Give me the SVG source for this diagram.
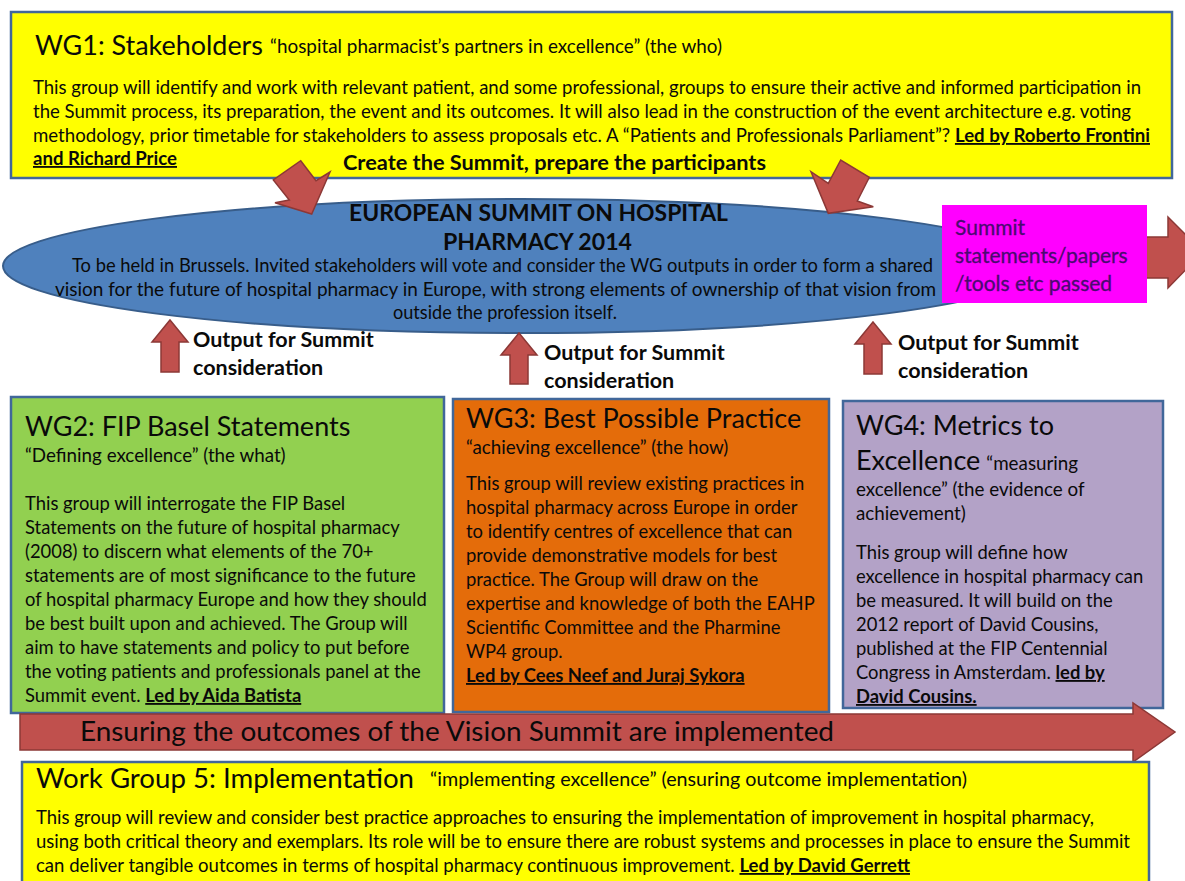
<svg xmlns="http://www.w3.org/2000/svg" width="1185" height="881" viewBox="0 0 1185 881">
<style>
text{font-family:Lato,"Liberation Sans",sans-serif;fill:#0a0a0a}
.box{stroke:#41679A;stroke-width:2.5}
.arr{fill:#C0504D;stroke:#8C3836;stroke-width:1.5;stroke-linejoin:miter}
.h{font-size:27px}
.s{font-size:18.8px}
.bd{font-size:18.4px}
.lb{font-size:21.5px;font-weight:bold}
.et{font-size:22px;font-weight:bold}
.b{font-weight:bold}
.u{text-decoration:underline}
text.mg{font-size:21px;fill:#4A0A70;stroke:#4A0A70;stroke-width:0.3}
</style>
<rect width="1185" height="881" fill="#fff"/>

<g id="wg1">
<rect class="box" x="11" y="12" width="1161" height="166" fill="#FFFF00"/>
<text class="h" x="35" y="55" textLength="228" lengthAdjust="spacingAndGlyphs">WG1: Stakeholders</text>
<text class="s" x="270" y="53" textLength="452" lengthAdjust="spacingAndGlyphs">“hospital pharmacist’s partners in excellence” (the who)</text>
<text class="bd" x="33" y="94" textLength="1108" lengthAdjust="spacingAndGlyphs">This group will identify and work with relevant patient, and some professional, groups to ensure their active and informed participation in</text>
<text class="bd" x="33" y="118" textLength="1098" lengthAdjust="spacingAndGlyphs">the Summit process, its preparation, the event and its outcomes. It will also lead in the construction of the event architecture e.g. voting</text>
<text class="bd" x="33" y="142" textLength="1117" lengthAdjust="spacingAndGlyphs">methodology, prior timetable for stakeholders to assess proposals etc. A “Patients and Professionals Parliament”?  <tspan class="b u">Led by Roberto Frontini</tspan></text>
<text class="bd b u" x="33" y="165" textLength="144" lengthAdjust="spacingAndGlyphs">and Richard Price</text>
<text class="lb" x="343" y="170" textLength="423" lengthAdjust="spacingAndGlyphs">Create the Summit, prepare the participants</text>
</g>

<g id="summit">
<ellipse cx="521" cy="266" rx="518" ry="67" fill="#4F81BD" stroke="#385D8A" stroke-width="2"/>
<text class="et" x="349" y="221" textLength="379" lengthAdjust="spacingAndGlyphs">EUROPEAN SUMMIT ON HOSPITAL</text>
<text class="et" x="443" y="250" textLength="189" lengthAdjust="spacingAndGlyphs">PHARMACY 2014</text>
<text class="bd" x="72" y="272" textLength="861" lengthAdjust="spacingAndGlyphs">To be held in Brussels. Invited stakeholders will vote and consider the WG outputs in order to form a shared</text>
<text class="bd" x="55" y="296" textLength="881" lengthAdjust="spacingAndGlyphs">vision for the future of hospital pharmacy in Europe, with strong elements of ownership of that vision from</text>
<text class="bd" x="393" y="319" textLength="224" lengthAdjust="spacingAndGlyphs">outside the profession itself.</text>
</g>

<g id="connectors">
<polygon class="arr" points="1145,237 1168,237 1168,217 1203,252 1168,288 1168,278 1145,278"/>
<polygon class="arr" points="300.7,160.7 316,180.7 330,172 311.7,214 275,202.7 289.3,200 273.3,180"/>
<polygon class="arr" points="840.7,160 828.3,183.3 811,171.7 828.3,213.3 873.3,206.7 857.3,201 869.3,177.3"/>
<polygon class="arr" points="170,320 188,342 179,342 179,372 161,372 161,342 152,342"/>
<polygon class="arr" points="519,333 537,355 528,355 528,384 510,384 510,355 501,355"/>
<polygon class="arr" points="873,322 891,344 882,344 882,374 864,374 864,344 855,344"/>
</g>

<g id="outputs">
<text class="lb" x="193" y="347">Output for Summit</text>
<text class="lb" x="193" y="375">consideration</text>
<text class="lb" x="544" y="360">Output for Summit</text>
<text class="lb" x="544" y="388">consideration</text>
<text class="lb" x="898" y="350">Output for Summit</text>
<text class="lb" x="898" y="378">consideration</text>
</g>

<g id="passed">
<rect x="942" y="205" width="205" height="98" fill="#FF00FF"/>
<text class="mg" x="955" y="235">Summit</text>
<text class="mg" x="955" y="263">statements/papers</text>
<text class="mg" x="955" y="291">/tools etc passed</text>
</g>

<g id="wg2">
<rect class="box" x="11" y="397" width="433" height="316" fill="#92D050"/>
<text class="h" x="25" y="436">WG2: FIP Basel Statements</text>
<text class="s" x="25" y="462">“Defining excellence” (the what)</text>
<text class="bd" x="25" y="510">This group will interrogate the FIP Basel</text>
<text class="bd" x="25" y="534">Statements on the future of hospital pharmacy</text>
<text class="bd" x="25" y="558">(2008) to discern what elements of the 70+</text>
<text class="bd" x="25" y="582">statements are of most significance to the future</text>
<text class="bd" x="25" y="606">of hospital pharmacy Europe and how they should</text>
<text class="bd" x="25" y="630">be best built upon and achieved. The Group will</text>
<text class="bd" x="25" y="654">aim to have statements and policy to put before</text>
<text class="bd" x="25" y="678">the voting patients and professionals panel at the</text>
<text class="bd" x="25" y="702">Summit event. <tspan class="b u">Led by Aida Batista</tspan></text>
</g>

<g id="wg3">
<rect class="box" x="453" y="399" width="376" height="313" fill="#E46C0A"/>
<text class="h" x="466" y="428">WG3: Best Possible Practice</text>
<text class="s" x="466" y="454">“achieving excellence” (the how)</text>
<text class="bd" x="466" y="490">This group will review existing practices in</text>
<text class="bd" x="466" y="514">hospital pharmacy across Europe in order</text>
<text class="bd" x="466" y="538">to identify centres of excellence that can</text>
<text class="bd" x="466" y="562">provide demonstrative models for best</text>
<text class="bd" x="466" y="586">practice. The Group will draw on the</text>
<text class="bd" x="466" y="610">expertise and knowledge of both the EAHP</text>
<text class="bd" x="466" y="634">Scientific Committee and the Pharmine</text>
<text class="bd" x="466" y="658">WP4 group.</text>
<text class="bd b u" x="466" y="682">Led by Cees Neef and Juraj  Sykora</text>
</g>

<g id="wg4">
<rect class="box" x="843" y="401" width="320" height="307" fill="#B3A2C7"/>
<text class="h" x="856" y="435">WG4: Metrics to</text>
<text x="856" y="470"><tspan class="h">Excellence</tspan><tspan class="s" dx="6">“measuring</tspan></text>
<text class="s" x="856" y="496">excellence” (the evidence of</text>
<text class="s" x="856" y="520">achievement)</text>
<text class="bd" x="856" y="559">This group will define how</text>
<text class="bd" x="856" y="583">excellence in hospital pharmacy can</text>
<text class="bd" x="856" y="607">be measured. It will build on the</text>
<text class="bd" x="856" y="631">2012 report of David Cousins,</text>
<text class="bd" x="856" y="655">published at the FIP Centennial</text>
<text class="bd" x="856" y="679">Congress in Amsterdam. <tspan class="b u">led by</tspan></text>
<text class="bd b u" x="856" y="703">David Cousins.</text>
</g>

<g id="implement">
<polygon class="arr" points="20,714 1133,714 1133,703 1175,732 1133,762 1133,750 20,750"/>
<text x="80" y="741" style="font-size:26px" textLength="754" lengthAdjust="spacingAndGlyphs">Ensuring the outcomes of the Vision Summit are implemented</text>
</g>

<g id="wg5">
<rect class="box" x="22" y="762" width="1127" height="130" fill="#FFFF00"/>
<text class="h" x="36" y="788" textLength="378" lengthAdjust="spacingAndGlyphs">Work Group 5: Implementation</text>
<text class="s" x="430" y="786" textLength="537" lengthAdjust="spacingAndGlyphs">“implementing excellence” (ensuring outcome implementation)</text>
<text class="bd" x="36" y="824" textLength="1058" lengthAdjust="spacingAndGlyphs">This group will review and consider best practice approaches to ensuring the implementation of improvement in hospital pharmacy,</text>
<text class="bd" x="36" y="848" textLength="1094" lengthAdjust="spacingAndGlyphs">using both critical theory and exemplars. Its role will be to ensure there are robust systems and processes in place to ensure the Summit</text>
<text class="bd" x="36" y="872" textLength="874" lengthAdjust="spacingAndGlyphs">can deliver tangible outcomes in terms of hospital pharmacy continuous improvement. <tspan class="b u">Led by David Gerrett</tspan></text>
</g>
</svg>
